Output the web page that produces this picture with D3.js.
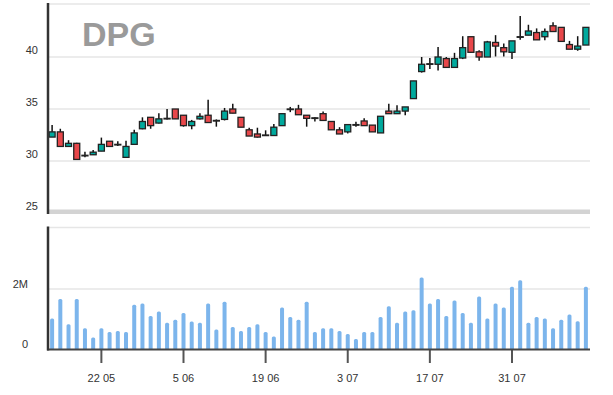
<!DOCTYPE html>
<html>
<head>
<meta charset="utf-8">
<script src="https://cdn.jsdelivr.net/npm/d3@7"></script>
<style>
  html, body { margin: 0; padding: 0; background: #fff; }
  svg { display: block; font-family: "Liberation Sans", Arial, sans-serif; }
</style>
</head>
<body>
<svg id="chart" width="613" height="395"></svg>
<script>
const title = "DPG";
const dates = [
  "2017-05-12","2017-05-15","2017-05-16","2017-05-17","2017-05-18","2017-05-19",
  "2017-05-22","2017-05-23","2017-05-24","2017-05-25","2017-05-26",
  "2017-05-29","2017-05-30","2017-05-31","2017-06-01","2017-06-02",
  "2017-06-05","2017-06-06","2017-06-07","2017-06-08","2017-06-09",
  "2017-06-12","2017-06-13","2017-06-14","2017-06-15","2017-06-16",
  "2017-06-19","2017-06-20","2017-06-21","2017-06-22","2017-06-23",
  "2017-06-26","2017-06-27","2017-06-28","2017-06-29","2017-06-30",
  "2017-07-03","2017-07-04","2017-07-05","2017-07-06","2017-07-07",
  "2017-07-10","2017-07-11","2017-07-12","2017-07-13","2017-07-14",
  "2017-07-17","2017-07-18","2017-07-19","2017-07-20","2017-07-21",
  "2017-07-24","2017-07-25","2017-07-26","2017-07-27","2017-07-28",
  "2017-07-31","2017-08-01","2017-08-02","2017-08-03","2017-08-04",
  "2017-08-07","2017-08-08","2017-08-09","2017-08-10","2017-08-11"
];
const open = [32.3,32.8,31.4,31.7,30.55,30.6,30.95,31.9,31.6,30.35,31.6,33.1,34.2,33.65,34.1,35.0,34.4,33.4,34.05,34.4,33.9,34.0,35.0,34.2,33.0,32.6,32.5,32.45,33.4,35.0,35.0,34.4,34.15,34.55,33.8,33.0,32.8,33.5,33.85,33.45,32.7,34.8,34.55,34.8,36.0,38.6,39.35,39.3,39.85,39.0,39.9,41.95,40.5,40.0,41.4,40.9,40.45,41.95,42.1,42.35,41.95,43.0,42.85,41.2,40.75,41.15];
const high = [33.45,33.1,32.0,31.75,30.9,31.05,32.25,31.9,31.9,31.95,33.0,34.2,34.2,34.6,35.0,35.0,34.4,33.95,34.6,35.9,34.0,35.1,35.5,34.2,33.2,33.2,32.95,33.55,34.6,35.2,35.4,34.4,34.2,34.75,33.8,33.25,33.5,33.78,34.1,33.45,34.3,35.5,35.35,35.2,37.7,40.0,39.9,40.95,40.0,40.4,42.0,41.95,40.65,41.55,42.1,41.3,41.55,43.95,43.1,42.75,42.75,43.35,42.85,41.55,42.0,42.85];
const low = [32.3,31.4,31.4,30.15,30.35,30.6,30.95,31.4,31.45,30.35,31.6,33.05,33.1,33.6,34.0,34.05,33.3,33.05,34.0,33.7,33.3,33.9,34.6,33.25,32.4,32.25,32.45,32.45,33.4,34.7,34.45,33.3,33.8,33.9,33.0,32.6,32.65,33.3,33.4,32.8,32.7,34.55,34.55,34.4,36.0,38.5,38.85,38.7,39.0,39.0,39.8,40.4,39.65,40.0,40.05,40.05,39.8,41.65,42.1,41.65,41.6,42.45,41.5,40.75,40.6,41.15];
const close = [32.8,31.4,31.7,30.15,30.55,30.85,31.6,31.4,31.6,31.4,32.7,33.8,33.4,34.05,34.1,34.05,33.4,33.8,34.3,33.7,33.9,34.8,34.6,33.25,32.4,32.3,32.5,33.25,34.55,35.0,34.45,34.1,34.15,33.9,33.0,32.6,33.5,33.5,33.4,32.8,34.3,34.55,34.8,35.2,37.7,39.3,39.35,40.0,39.0,39.85,40.9,40.45,40.0,41.45,41.05,40.5,41.55,41.95,42.5,41.65,42.45,42.45,41.5,40.75,41.05,42.85];
const volume = [1.03,1.68,0.84,1.68,0.71,0.40,0.71,0.58,0.62,0.58,1.49,1.53,1.12,1.27,0.89,0.99,1.22,0.93,0.89,1.53,0.67,1.59,0.75,0.62,0.75,0.84,0.58,0.43,1.40,1.08,0.99,1.59,0.58,0.71,0.71,0.62,0.52,0.35,0.58,0.58,1.08,1.44,0.89,1.27,1.31,2.40,1.53,1.68,1.12,1.63,1.22,0.89,1.77,1.03,1.53,1.40,2.09,2.31,0.89,1.08,1.03,0.71,0.99,1.17,0.94,2.09].map(v => v * 1e6);
const priceTicks = [25, 30, 35, 40];
const volumeTicks = [0, 2e6];
const volumeTickLabels = ["0", "2M"];
const tickDates = ["2017-05-22","2017-06-05","2017-06-19","2017-07-03","2017-07-17","2017-07-31"];
const tickLabels = ["22 05","5 06","19 06","3 07","17 07","31 07"];

const svg = d3.select("#chart");
const left = 48, right = 590;
const x = d3.scaleBand().domain(dates).range([left, right]).padding(0);
const cx = d => x(d) + x.bandwidth() / 2;
const yP = d3.scaleLinear().domain([25, 45]).range([213, 5]);
const yV = d3.scaleLinear().domain([0, 4e6]).range([349.5, 229.5]);

const UP = "#00a99d", DOWN = "#e8474a";
const GRID = "#e6e6e6";

// price panel grid
svg.append("line").attr("x1", left).attr("x2", right).attr("y1", 4).attr("y2", 4)
  .attr("stroke", GRID).attr("stroke-width", 1.5);
svg.append("g").selectAll("line").data(priceTicks.filter(t => t > 25)).join("line")
  .attr("x1", left).attr("x2", right).attr("y1", d => yP(d)).attr("y2", d => yP(d))
  .attr("stroke", GRID).attr("stroke-width", 1.5);
svg.append("g").selectAll("text").data(priceTicks).join("text")
  .attr("x", 38).attr("y", d => yP(d) - 3).attr("text-anchor", "end")
  .attr("font-size", 11).attr("fill", "#333").text(d => d);
// bottom band of price panel
svg.append("rect").attr("x", left).attr("y", 209.5).attr("width", right - left).attr("height", 4.5)
  .attr("fill", "#d3d3d3");

// title
svg.append("text").attr("x", 82).attr("y", 45.5).attr("font-size", 34).attr("font-weight", "bold")
  .attr("fill", "#9a9a9a").text(title);

// candles
const idx = d3.range(dates.length);
const cg = svg.append("g");
cg.selectAll("line.wick").data(idx).join("line").attr("class", "wick")
  .attr("x1", i => cx(dates[i])).attr("x2", i => cx(dates[i]))
  .attr("y1", i => yP(high[i])).attr("y2", i => yP(low[i]))
  .attr("stroke", "#111").attr("stroke-width", 1.5);
cg.selectAll("rect.body").data(idx).join("rect").attr("class", "body")
  .attr("x", i => cx(dates[i]) - 3).attr("width", 6)
  .attr("y", i => yP(Math.max(open[i], close[i])))
  .attr("height", i => Math.max(0.6, Math.abs(yP(open[i]) - yP(close[i]))))
  .attr("fill", i => close[i] > open[i] ? UP : (close[i] < open[i] ? DOWN : "#111"))
  .attr("stroke", "#222").attr("stroke-width", 1.3);

// left axis line, price panel
svg.append("line").attr("x1", left).attr("x2", left).attr("y1", 3).attr("y2", 214)
  .attr("stroke", "#333").attr("stroke-width", 2.5);

// volume panel
svg.append("line").attr("x1", left).attr("x2", right).attr("y1", 227.5).attr("y2", 227.5)
  .attr("stroke", GRID).attr("stroke-width", 1.5);
svg.append("g").selectAll("line").data(volumeTicks.filter(t => t > 0)).join("line")
  .attr("x1", left).attr("x2", right).attr("y1", d => yV(d) - 0.5).attr("y2", d => yV(d) - 0.5)
  .attr("stroke", GRID).attr("stroke-width", 1.5);
svg.append("g").selectAll("text").data(volumeTicks).join("text")
  .attr("x", 28).attr("y", (d, i) => yV(d) - 2).attr("text-anchor", "end")
  .attr("font-size", 11).attr("fill", "#333").text((d, i) => volumeTickLabels[i]);

svg.append("g").selectAll("path").data(idx).join("path")
  .attr("d", i => {
    const xc = cx(dates[i]), w = 4, y0 = yV(0), y1 = yV(volume[i]);
    const r = 1.5;
    return `M${xc - w/2},${y0} L${xc - w/2},${y1 + r} Q${xc - w/2},${y1} ${xc - w/2 + r},${y1} L${xc + w/2 - r},${y1} Q${xc + w/2},${y1} ${xc + w/2},${y1 + r} L${xc + w/2},${y0} Z`;
  })
  .attr("fill", "#7cb5ec");

// x axis
const xTicks = svg.append("g");
xTicks.selectAll("line").data(tickDates).join("line")
  .attr("x1", d => cx(d)).attr("x2", d => cx(d)).attr("y1", 349.5).attr("y2", 363)
  .attr("stroke", "#555").attr("stroke-width", 2);
xTicks.selectAll("text").data(tickDates).join("text")
  .attr("x", d => cx(d)).attr("y", 381.5).attr("text-anchor", "middle")
  .attr("font-size", 11).attr("fill", "#333").text((d, i) => tickLabels[i]);
svg.append("line").attr("x1", left - 1).attr("x2", right).attr("y1", 349.5).attr("y2", 349.5)
  .attr("stroke", "#444").attr("stroke-width", 2);
svg.append("line").attr("x1", left).attr("x2", left).attr("y1", 226.5).attr("y2", 350.5)
  .attr("stroke", "#333").attr("stroke-width", 2.5);
</script>
</body>
</html>
